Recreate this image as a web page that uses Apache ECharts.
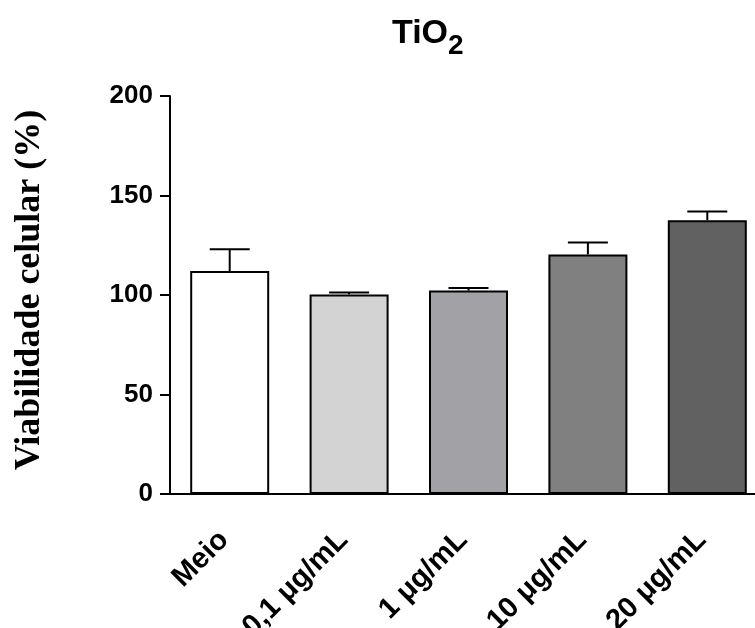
<!DOCTYPE html>
<html>
<head>
<meta charset="utf-8">
<script src="https://cdn.jsdelivr.net/npm/echarts@6/dist/echarts.min.js"></script>
<style>
  html, body { margin: 0; padding: 0; background: #fff; }
  #main { width: 755px; height: 628px; }
</style>
</head>
<body>
<div id="main"></div>
<script>
// dados
var categorias = ['Meio', '0,1 μg/mL', '1 μg/mL', '10 μg/mL', '20 μg/mL'];
var medias = [112, 100.3, 102.2, 120.4, 137.6];
var erros = [11, 1, 1.3, 6, 4.4];
var cores = ['#ffffff', '#d3d3d3', '#a2a1a6', '#808080', '#616161'];
var yTicks = [0, 50, 100, 150, 200];

var chart = echarts.init(document.getElementById('main'));

var barData = medias.map(function (v, i) {
    return { value: v, itemStyle: { color: cores[i] } };
});
var errData = medias.map(function (v, i) {
    return [i, v, v + erros[i]];
});

var fonteTitulo = 'bold 34px "Liberation Sans", Arial, sans-serif';

chart.setOption({
    animation: false,
    // título TiO2 com o 2 subscrito
    graphic: [
        { type: 'text', x: 392, y: 17, style: { text: 'TiO', font: fonteTitulo, fill: '#000', verticalAlign: 'top' } },
        { type: 'text', x: 448, y: 32, style: { text: '2', font: 'bold 28px "Liberation Sans", Arial, sans-serif', fill: '#000', verticalAlign: 'top' } }
    ],
    grid: { left: 170, top: 96, width: 597, height: 398, outerBoundsMode: 'none' },
    xAxis: {
        type: 'category',
        data: categorias,
        axisLine: { lineStyle: { color: '#000', width: 2 } },
        axisTick: { alignWithLabel: true, length: 11, lineStyle: { color: '#000', width: 2 } },
        axisLabel: {
            interval: 0,
            rotate: 45,
            margin: 36,
            padding: [0, 8, 0, 0],
            color: '#000',
            fontSize: 29,
            fontWeight: 'bold',
            fontFamily: 'Liberation Sans'
        }
    },
    yAxis: {
        type: 'value',
        min: yTicks[0],
        max: yTicks[yTicks.length - 1],
        interval: 50,
        name: 'Viabilidade celular (%)',
        nameLocation: 'middle',
        nameGap: 122,
        nameTextStyle: { fontSize: 36, fontWeight: 'bold', fontFamily: 'Liberation Serif', color: '#000', padding: [0, 0, 0, 10] },
        axisLine: { show: true, lineStyle: { color: '#000', width: 2 } },
        axisTick: { show: true, length: 10, lineStyle: { color: '#000', width: 2 } },
        splitLine: { show: false },
        axisLabel: {
            margin: 17,
            color: '#000',
            fontSize: 26,
            fontWeight: 'bold',
            fontFamily: 'Liberation Sans'
        }
    },
    series: [
        {
            type: 'bar',
            data: barData,
            barWidth: 79,
            itemStyle: { borderColor: '#000', borderWidth: 2 }
        },
        {
            type: 'custom',
            data: errData,
            z: 5,
            renderItem: function (params, api) {
                var i = api.value(0);
                var base = api.coord([i, api.value(1)]);
                var top = api.coord([i, api.value(2)]);
                var half = 20;
                var st = { stroke: '#000', lineWidth: 2 };
                return {
                    type: 'group',
                    children: [
                        { type: 'line', shape: { x1: base[0], y1: base[1], x2: top[0], y2: top[1] }, style: st },
                        { type: 'line', shape: { x1: top[0] - half, y1: top[1], x2: top[0] + half, y2: top[1] }, style: st }
                    ]
                };
            }
        }
    ]
});
</script>
</body>
</html>
